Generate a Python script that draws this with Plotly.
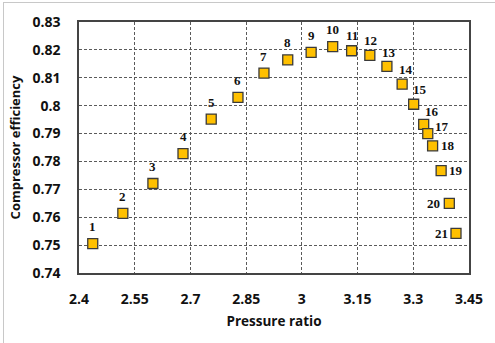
import plotly.graph_objects as go

pressure_ratio = [2.437, 2.518, 2.599, 2.680, 2.756, 2.828, 2.898, 2.962, 3.025, 3.083,
                  3.134, 3.183, 3.229, 3.270, 3.301, 3.328, 3.339, 3.352, 3.375, 3.397, 3.415]
efficiency = [0.7505, 0.7614, 0.7721, 0.7828, 0.7952, 0.8030, 0.8117, 0.8164, 0.8191, 0.8212,
              0.8197, 0.8180, 0.8141, 0.8077, 0.8005, 0.7933, 0.7900, 0.7856, 0.7767, 0.7650, 0.7542]
point_labels = [str(i) for i in range(1, 22)]
x_ticks = [2.4, 2.55, 2.7, 2.85, 3.0, 3.15, 3.3, 3.45]
x_tick_text = ["2.4", "2.55", "2.7", "2.85", "3", "3.15", "3.3", "3.45"]
y_ticks = [0.74, 0.75, 0.76, 0.77, 0.78, 0.79, 0.80, 0.81, 0.82, 0.83]
y_tick_text = ["0.74", "0.75", "0.76", "0.77", "0.78", "0.79", "0.8", "0.81", "0.82", "0.83"]

# label offsets (pixels) per point
label_shift = [(0, -17)] * 10 + [(0, -15), (1, -15), (2, -14), (4, -15), (6, -15),
                                 (8, -13), (14, -7), (15, 0), (15, 0), (-16, 0), (-15, 0)]

fig = go.Figure()
fig.add_trace(go.Scatter(
    x=pressure_ratio, y=efficiency, mode="markers",
    marker=dict(symbol="square", size=10, color="#FFC000",
                line=dict(color="#3a3a3a", width=1.3)),
    showlegend=False, hoverinfo="x+y"))

for xv, yv, lab, (dx, dy) in zip(pressure_ratio, efficiency, point_labels, label_shift):
    fig.add_annotation(x=xv, y=yv, text="<b>" + lab + "</b>", showarrow=False, xshift=dx, yshift=-dy,
                       font=dict(family="Liberation Serif", size=13, color="#111111"),
                       xanchor="center", yanchor="middle")

axis_font = dict(family="Open Sans", size=14, color="#111111", weight="bold")

fig.update_xaxes(range=[2.4, 3.45], tickvals=x_ticks, ticktext=x_tick_text,
                 showgrid=True, gridcolor="#5a5a5a", griddash="3px,2px", gridwidth=1,
                 showline=True, linecolor="#444", linewidth=1.5, mirror=True,
                 zeroline=False, ticks="", ticklabelstandoff=12,
                 tickfont=axis_font,
                 title=dict(text="<b>Pressure ratio</b>", font=dict(family="Open Sans", size=13.5, color="#111111"),
                            standoff=10))
fig.update_yaxes(range=[0.74, 0.83], tickvals=y_ticks, ticktext=y_tick_text,
                 showgrid=True, gridcolor="#5a5a5a", griddash="3px,2px", gridwidth=1,
                 showline=True, linecolor="#444", linewidth=1.5, mirror=True,
                 zeroline=False, ticks="", ticklabelstandoff=14,
                 tickfont=axis_font,
                 title=dict(text="<b>Compressor efficiency</b>", font=dict(family="Open Sans", size=13, color="#111111"),
                            standoff=9))

fig.update_layout(width=495, height=343, margin=dict(l=79, r=18, t=19, b=70),
                  plot_bgcolor="white", paper_bgcolor="white")

frame_js = (
    "document.body.style.margin='0';document.body.style.overflow='hidden';"
    "var f=document.createElement('div');"
    "f.style.cssText='position:absolute;left:3px;top:2px;width:500px;height:400px;"
    "border-left:1.5px solid #c8c8c8;border-top:1.5px solid #c8c8c8;pointer-events:none;z-index:10';"
    "document.body.appendChild(f);"
)
fig.write_html("out.html", config={"displayModeBar": False}, post_script=frame_js)
